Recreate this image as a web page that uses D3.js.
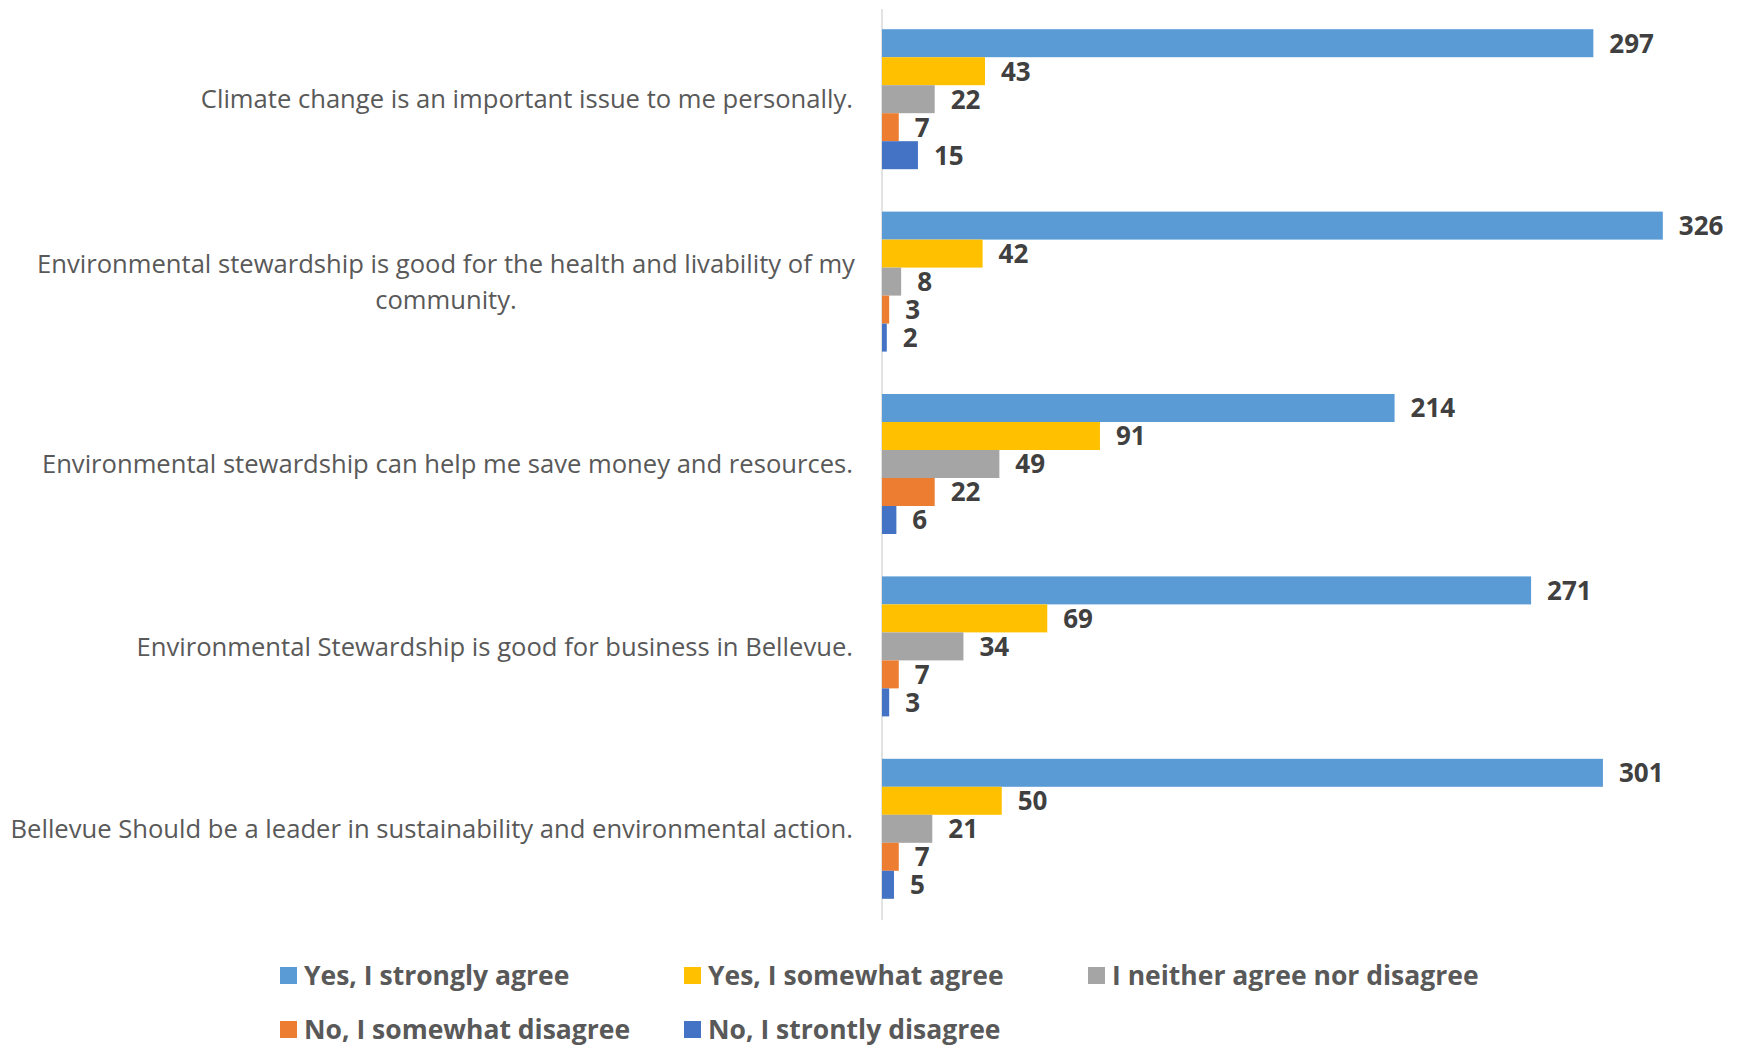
<!DOCTYPE html>
<html>
<head>
<meta charset="utf-8">
<script src="https://cdn.jsdelivr.net/npm/d3@7"></script>
<style>
  html, body { margin: 0; padding: 0; background: #fff; }
  svg { display: block; }
</style>
</head>
<body>
<svg id="chart" width="1746" height="1052"></svg>
<script>
// ---- Data ----
const categories = [
  "Climate change is an important issue to me personally.",
  "Environmental stewardship is good for the health and livability of my\ncommunity.",
  "Environmental stewardship can help me save money and resources.",
  "Environmental Stewardship is good for business in Bellevue.",
  "Bellevue Should be a leader in sustainability and environmental action."
];
const seriesNames = [
  "Yes, I strongly agree",
  "Yes, I somewhat agree",
  "I neither agree nor disagree",
  "No, I somewhat disagree",
  "No, I strontly disagree"
];
const stronglyAgree   = [297, 326, 214, 271, 301];
const somewhatAgree   = [43, 42, 91, 69, 50];
const neither         = [22, 8, 49, 34, 21];
const somewhatDisagree= [7, 3, 22, 7, 7];
const stronglyDisagree= [15, 2, 6, 3, 5];
const seriesColors = ["#5B9BD5", "#FFC000", "#A5A5A5", "#ED7D31", "#4472C4"];
const xDomainMax = 350;

const seriesValues = [stronglyAgree, somewhatAgree, neither, somewhatDisagree, stronglyDisagree];

// ---- Layout ----
const svg = d3.select("#chart");
const plotLeft = 882, plotRight = 1720.3, plotTop = 8, plotBottom = 920;

const x = d3.scaleLinear().domain([0, xDomainMax]).range([plotLeft, plotRight]);
const y0 = d3.scaleBand().domain(d3.range(categories.length)).range([plotTop, plotBottom]).paddingInner(0.2325).paddingOuter(0.11625);
const y1 = d3.scaleBand().domain(d3.range(seriesNames.length)).range([0, y0.bandwidth()]);

// axis line
svg.append("line")
  .attr("x1", plotLeft).attr("x2", plotLeft)
  .attr("y1", plotTop + 1).attr("y2", plotBottom)
  .attr("stroke", "#D9D9D9").attr("stroke-width", 1.5);

const groups = svg.selectAll("g.cat")
  .data(categories)
  .join("g")
  .attr("class", "cat")
  .attr("transform", (d, i) => `translate(0,${y0(i)})`);

groups.each(function(cat, ci) {
  const g = d3.select(this);
  const rows = seriesValues.map((vals, si) => ({ si, v: vals[ci] }));
  g.selectAll("rect")
    .data(rows)
    .join("rect")
    .attr("x", x(0))
    .attr("y", d => y1(d.si))
    .attr("width", d => x(d.v) - x(0))
    .attr("height", y1.bandwidth())
    .attr("fill", d => seriesColors[d.si]);
  g.selectAll("text.val")
    .data(rows)
    .join("text")
    .attr("class", "val")
    .attr("x", d => x(d.v) + 16)
    .attr("y", d => y1(d.si) + y1.bandwidth() / 2)
    .attr("dy", "0.36em")
    .attr("font-family", "'Open Sans', sans-serif")
    .attr("font-weight", "bold")
    .attr("font-size", 26)
    .attr("fill", "#404040")
    .text(d => d.v);
});

// category labels
svg.selectAll("text.cat")
  .data(categories)
  .join("text")
  .attr("class", "cat")
  .attr("font-family", "'Open Sans', sans-serif")
  .attr("font-size", 25.6)
  .attr("fill", "#595959")
  .each(function(d, i) {
    const lines = d.split("\n");
    const t = d3.select(this);
    const cy = y0(i) + y0.bandwidth() / 2;
    const lh = 36;
    const multi = lines.length > 1;
    t.attr("text-anchor", multi ? "middle" : "end");
    lines.forEach((ln, k) => {
      t.append("tspan")
        .attr("x", multi ? 446 : 853)
        .attr("y", cy + (k - (lines.length - 1) / 2) * lh)
        .attr("dy", "0.36em")
        .text(ln);
    });
  });

// legend
const legendCols = [280, 684, 1088];
const legendRows = [975.5, 1029.5];
const legend = svg.selectAll("g.leg")
  .data(seriesNames)
  .join("g")
  .attr("class", "leg")
  .attr("transform", (d, i) => `translate(${legendCols[i % 3]},${legendRows[Math.floor(i / 3)]})`);
legend.append("rect")
  .attr("x", 0).attr("y", -8.5)
  .attr("width", 17).attr("height", 17)
  .attr("fill", (d, i) => seriesColors[i]);
legend.append("text")
  .attr("x", 24)
  .attr("dy", "0.36em")
  .attr("font-family", "'Open Sans', sans-serif")
  .attr("font-weight", "bold")
  .attr("font-size", 26.5)
  .attr("fill", "#595959")
  .text(d => d);
</script>
</body>
</html>
